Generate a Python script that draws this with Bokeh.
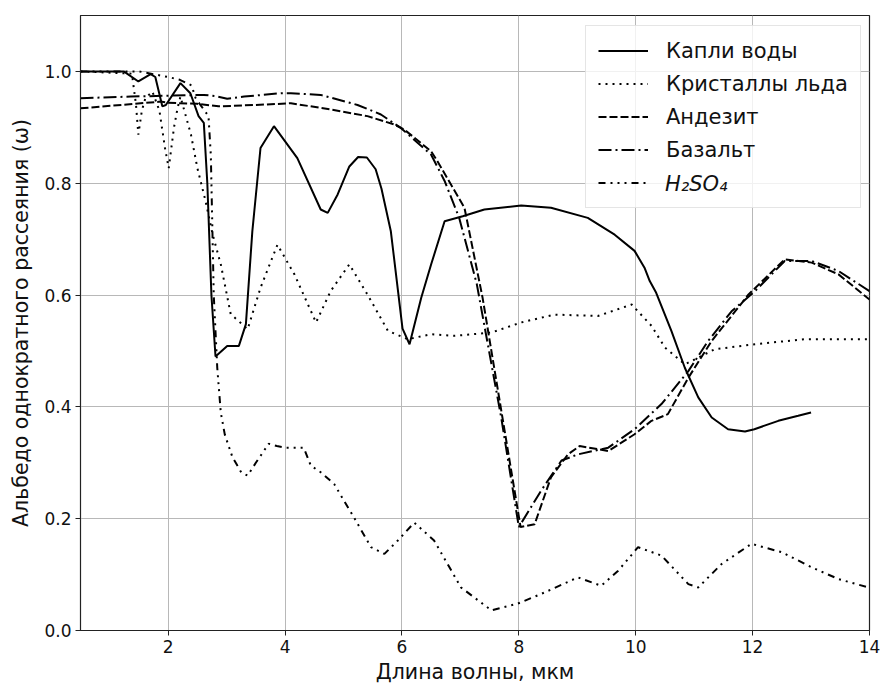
from bokeh.plotting import figure
from bokeh.models import Range1d, Legend, LegendItem, FixedTicker, NumeralTickFormatter
from bokeh.embed import file_html
from bokeh.resources import INLINE

# --- data ---
water_x = [0.5, 1.24, 1.49, 1.7, 1.78, 1.9, 1.96, 2.21, 2.38, 2.52, 2.61, 2.67, 2.74, 2.81,
           3.01, 3.21, 3.33, 3.44, 3.58, 3.81, 4.21, 4.61, 4.73, 4.9, 5.1, 5.25, 5.4, 5.55,
           5.65, 5.81, 6.01, 6.13, 6.33, 6.5, 6.73, 7.04, 7.41, 8.04, 8.55, 9.18, 9.64,
           9.98, 10.15, 10.24, 10.35, 10.61, 10.84, 11.07, 11.3, 11.58, 11.87, 12.03,
           12.44, 12.78, 13.0]
water_y = [1.0, 1.0, 0.982, 0.995, 0.99, 0.9375, 0.94, 0.979, 0.961, 0.92, 0.908, 0.80, 0.6, 0.49,
           0.509, 0.509, 0.548, 0.714, 0.863, 0.902, 0.845, 0.753, 0.747, 0.78, 0.83, 0.847, 0.846, 0.825,
           0.79, 0.714, 0.54, 0.512, 0.595, 0.655, 0.732, 0.741, 0.753, 0.76, 0.756, 0.738, 0.708,
           0.679, 0.649, 0.625, 0.604, 0.536, 0.47, 0.417, 0.381, 0.36, 0.356, 0.36,
           0.375, 0.384, 0.39]

ice_x = [0.5, 1.38, 1.45, 1.49, 1.55, 1.61, 1.73, 1.85, 1.95, 2.01, 2.1, 2.16, 2.21, 2.39, 2.5,
         2.64, 2.76, 2.9, 3.07, 3.36, 3.58, 3.87, 4.16, 4.53, 4.78, 5.1, 5.41, 5.76, 6.1, 6.5,
         6.9, 7.53, 8.04, 8.61, 9.35, 9.93, 10.27, 10.5, 10.84, 11.07, 11.35, 12.04, 12.89, 13.98]
ice_y = [1.0, 0.996, 0.94, 0.887, 0.93, 0.952, 0.964, 0.93, 0.86, 0.827, 0.9, 0.934, 0.955, 0.887, 0.827,
         0.768, 0.709, 0.655, 0.566, 0.539, 0.613, 0.69, 0.637, 0.551, 0.607, 0.655, 0.601, 0.536, 0.521, 0.53,
         0.527, 0.533, 0.551, 0.565, 0.5625, 0.583, 0.545, 0.506, 0.476, 0.488, 0.503, 0.512, 0.521, 0.521]

andesite_x = [0.5, 1.87, 2.0, 2.5, 2.86, 3.5, 4.1, 4.78, 5.41, 5.87, 6.04, 6.5, 6.61, 7.07, 7.38,
              8.03, 8.27, 8.55, 8.84, 9.04, 9.53, 9.98, 10.27, 10.55, 10.9, 11.3, 11.93, 12.55,
              13.01, 13.47, 14.0]
andesite_y = [0.934, 0.946, 0.944, 0.942, 0.9375, 0.94, 0.943, 0.932, 0.92, 0.905, 0.896, 0.857, 0.839,
              0.756, 0.595, 0.185, 0.19, 0.274, 0.315, 0.33, 0.321, 0.351, 0.375, 0.387, 0.452, 0.518,
              0.601, 0.664, 0.658, 0.637, 0.592]

basalt_x = [0.5, 1.36, 2.61, 2.8, 3.01, 3.3, 3.93, 4.1, 4.61, 5.24, 5.64, 5.98, 6.5, 6.73, 6.98,
            7.28, 7.7, 8.0, 8.38, 8.73, 9.01, 9.53, 9.98, 10.44, 10.9, 11.24, 11.64, 12.04, 12.55,
            13.01, 13.47, 14.0]
basalt_y = [0.952, 0.955, 0.958, 0.956, 0.951, 0.955, 0.961, 0.961, 0.958, 0.94, 0.923, 0.899, 0.851,
            0.804, 0.738, 0.62, 0.38, 0.185, 0.25, 0.304, 0.315, 0.327, 0.36, 0.405, 0.464, 0.518,
            0.571, 0.607, 0.661, 0.661, 0.643, 0.607]

h2so4_x = [0.5, 1.5, 2.0, 2.2, 2.4, 2.47, 2.69, 2.73, 2.78, 2.84, 2.9, 2.97, 3.1, 3.25, 3.36, 3.5,
           3.72, 3.86, 4.01, 4.18, 4.32, 4.44, 4.61, 4.84, 5.18, 5.47, 5.7, 5.93, 6.21, 6.55,
           7.01, 7.53, 7.98, 8.44, 9.01, 9.41, 9.7, 10.04, 10.44, 10.9, 11.07, 11.47, 11.98,
           12.5, 13.01, 13.47, 13.98]
h2so4_y = [1.0, 1.0, 0.99, 0.985, 0.975, 0.952, 0.92, 0.85, 0.6, 0.47, 0.39, 0.35, 0.31, 0.283, 0.277, 0.3,
           0.334, 0.33, 0.327, 0.327, 0.327, 0.295, 0.283, 0.262, 0.202, 0.149, 0.137, 0.161, 0.193, 0.161,
           0.077, 0.036, 0.048, 0.068, 0.095, 0.08, 0.107, 0.149, 0.134, 0.083, 0.077, 0.119, 0.155,
           0.14, 0.113, 0.092, 0.077]

labels = ["Капли воды", "Кристаллы льда", "Андезит", "Базальт", "H\u2082SO\u2084"]
x_ticks = [2, 4, 6, 8, 10, 12, 14]
y_ticks = [0.0, 0.2, 0.4, 0.6, 0.8, 1.0]

FONT = "DejaVu Sans"

p = figure(width=882, height=691, output_backend="svg", toolbar_location=None,
           x_range=Range1d(0.5, 14), y_range=Range1d(0, 1.1),
           min_border_left=80, min_border_right=13, min_border_top=15, min_border_bottom=61)
p.background_fill_color = "white"
p.border_fill_color = "white"
p.outline_line_color = "#222222"
p.outline_line_width = 1.2

p.xaxis.ticker = FixedTicker(ticks=x_ticks)
p.yaxis.ticker = FixedTicker(ticks=y_ticks)
p.yaxis.formatter = NumeralTickFormatter(format="0.0")
for ax in [p.xaxis[0], p.yaxis[0]]:
    ax.major_tick_in = 0
    ax.major_tick_out = 5
    ax.major_label_standoff = 4
    ax.minor_tick_line_color = None
    ax.axis_line_color = "#222222"
    ax.major_tick_line_color = "#222222"
    ax.major_label_text_font = FONT
    ax.major_label_text_font_size = "17px"
    ax.major_label_text_color = "#111111"
    ax.axis_label_text_font = FONT
    ax.axis_label_text_font_size = "20.5px"
    ax.axis_label_text_font_style = "normal"
    ax.axis_label_text_color = "#111111"
p.xaxis.axis_label = "Длина волны, мкм"
p.yaxis.axis_label = "Альбедо однократного рассеяния (ω)"
p.xaxis.axis_label_standoff = 4
p.yaxis.axis_label_standoff = 8

p.grid.grid_line_color = "#b8b8b8"
p.grid.grid_line_width = 1

c = "black"
lw = 2
r1 = p.line(water_x, water_y, line_color=c, line_width=lw)
r2 = p.line(ice_x, ice_y, line_color=c, line_width=lw, line_dash="2 5")
r3 = p.line(andesite_x, andesite_y, line_color=c, line_width=lw, line_dash="8 3")
r4 = p.line(basalt_x, basalt_y, line_color=c, line_width=lw, line_dash="13 4 2 4")
r5 = p.line(h2so4_x, h2so4_y, line_color=c, line_width=lw, line_dash="7 5 2 5 2 5 2 5")
renderers = [r1, r2, r3, r4, r5]
# invisible renderer: carries the italic H2SO4 label without a second line sample
r_blank = p.line([], [], line_alpha=0)

# legend geometry (screen px); legend location tuple = bottom-left corner measured from frame bottom-left
FRAME_H = 615          # 691 - 15 (top) - 61 (bottom)
ROW = 25
SPACING = 8
PAD = 12
BOX_LEFT = 505         # from frame left
BOX_TOP = 12           # from frame top
N = 5
BOX_H = 2 * PAD + N * ROW + (N - 1) * SPACING


def style(lg):
    lg.glyph_width = 50
    lg.glyph_height = ROW
    lg.label_height = ROW
    lg.label_standoff = 18
    lg.spacing = SPACING
    lg.margin = 0
    lg.label_text_font = FONT
    lg.label_text_font_size = "21px"
    lg.label_text_color = "#111111"


# main legend box: four upright labels plus the H2SO4 line sample
items_a = [LegendItem(label=l, renderers=[r]) for l, r in zip(labels[:4], renderers[:4])]
items_a.append(LegendItem(label=" ", renderers=[r5]))
legend_a = Legend(items=items_a, location=(BOX_LEFT, FRAME_H - BOX_TOP - BOX_H))
style(legend_a)
legend_a.padding = PAD
legend_a.border_line_color = "#cccccc"
legend_a.border_line_width = 1
legend_a.background_fill_alpha = 0.8
p.add_layout(legend_a)

# italic H2SO4 label placed on the fifth row of the box
row5_bottom = BOX_TOP + PAD + (N - 1) * (ROW + SPACING) + ROW
legend_b = Legend(items=[LegendItem(label=labels[4], renderers=[r_blank])],
                  location=(BOX_LEFT + PAD, FRAME_H - row5_bottom))
style(legend_b)
legend_b.padding = 0
legend_b.label_text_font_style = "italic"
legend_b.border_line_color = None
legend_b.background_fill_alpha = 0
p.add_layout(legend_b)

open("out.html", "w").write(file_html(p, INLINE))
